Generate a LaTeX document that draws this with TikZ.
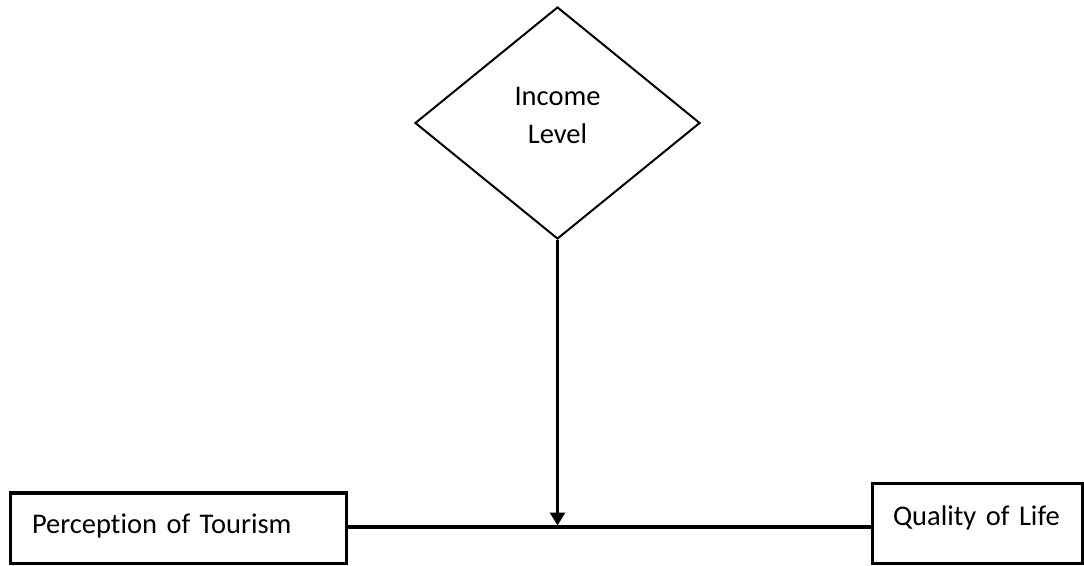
\documentclass[tikz,border=0pt]{standalone}
\usepackage{fontspec}
\setmainfont[RawFeature=-liga]{Carlito}
\usetikzlibrary{shapes.geometric,arrows.meta}
\begin{document}
\begin{tikzpicture}[x=1pt,y=1pt,
  txt/.style={font=\fontsize{28.5}{38}\selectfont},
  varbox/.style={draw,line width=3pt,inner ysep=0pt,txt},
  moderator/.style={draw,diamond,line width=2pt,inner sep=0pt,
    minimum width=285pt,minimum height=232pt,align=center,txt},
  link/.style={line width=4pt},
  effect/.style={line width=3pt,-{Triangle[width=15pt,length=13pt]},shorten >=1.5pt}]
\useasboundingbox (0,0) rectangle (1084,565);
% moderating variable
\node[moderator,text depth=16pt] (inc) at (557.5,442) {Income\\Level};
% independent and dependent variables
\node[varbox,text width=292pt,inner xsep=22pt,align=left,
  text height=40pt,text depth=30pt] (pt) at (178,37) {Perception of Tourism};
\node[varbox,text width=168pt,inner xsep=21pt,align=left,
  text height=41pt,text depth=38pt] (ql) at (977,41.5) {Quality of Life};
% direct relation and moderating effect
\coordinate (lk) at ([yshift=1pt]pt.east);
\draw[link] (lk) -- (lk -| ql.west);
\draw[effect] (inc.south) -- (inc.south |- lk);
\end{tikzpicture}
\end{document}
